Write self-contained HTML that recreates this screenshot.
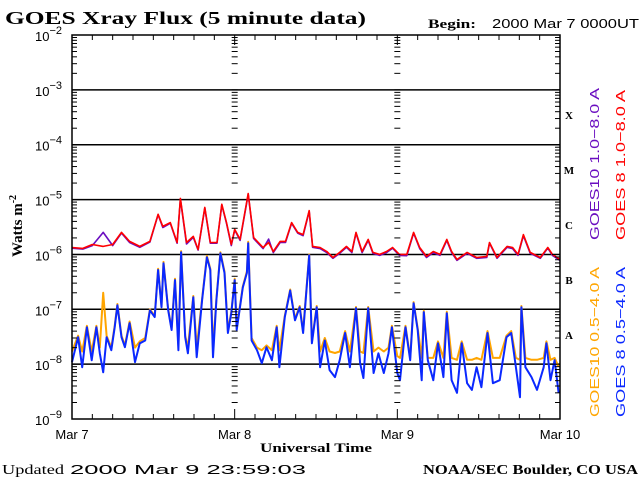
<!DOCTYPE html>
<html><head><meta charset="utf-8"><style>
html,body{margin:0;padding:0;background:#fff;}
svg{display:block;}
.serif{font-family:"Liberation Serif",serif;}
.sans{font-family:"Liberation Sans",sans-serif;}
</style></head><body>
<svg id="chart" width="640" height="480" viewBox="0 0 640 480" xmlns="http://www.w3.org/2000/svg">
<rect x="0" y="0" width="640" height="480" fill="#fff"/>
<text class="serif" x="5" y="24" font-size="18" font-weight="bold" textLength="361" lengthAdjust="spacingAndGlyphs">GOES Xray Flux (5 minute data)</text>
<text class="serif" x="428" y="28" font-size="13" font-weight="bold" textLength="48" lengthAdjust="spacingAndGlyphs">Begin:</text>
<text class="sans" x="492" y="28" font-size="13" textLength="147" lengthAdjust="spacingAndGlyphs">2000 Mar 7 0000UT</text>
<g id="grid"></g>
<g id="series"></g>
<rect x="72" y="35" width="488" height="384" fill="none" stroke="#000" stroke-width="1.5"/>
<g id="axes"></g>
<text class="serif" font-size="15" font-weight="bold" transform="translate(22,226) rotate(-90)" text-anchor="middle">Watts m<tspan font-size="10" dy="-6">-2</tspan></text>
<text class="serif" x="316" y="452" font-size="13" font-weight="bold" text-anchor="middle" textLength="112" lengthAdjust="spacingAndGlyphs">Universal Time</text>
<text class="serif" x="569" y="119" font-size="11" font-weight="bold" text-anchor="middle">X</text>
<text class="serif" x="569" y="174" font-size="11" font-weight="bold" text-anchor="middle">M</text>
<text class="serif" x="569" y="229" font-size="11" font-weight="bold" text-anchor="middle">C</text>
<text class="serif" x="569" y="284" font-size="11" font-weight="bold" text-anchor="middle">B</text>
<text class="serif" x="569" y="339" font-size="11" font-weight="bold" text-anchor="middle">A</text>
<text class="sans" font-size="13" fill="#6a0dc0" transform="translate(599,240) rotate(-90)" textLength="152" lengthAdjust="spacingAndGlyphs">GOES10 1.0−8.0 A</text>
<text class="sans" font-size="13" fill="#ff0000" transform="translate(625,240) rotate(-90)" textLength="150" lengthAdjust="spacingAndGlyphs">GOES 8 1.0−8.0 A</text>
<text class="sans" font-size="13" fill="#ffa500" transform="translate(599,417) rotate(-90)" textLength="150" lengthAdjust="spacingAndGlyphs">GOES10 0.5−4.0 A</text>
<text class="sans" font-size="13" fill="#0a28ff" transform="translate(625,417) rotate(-90)" textLength="150" lengthAdjust="spacingAndGlyphs">GOES 8 0.5−4.0 A</text>
<text class="serif" x="2" y="474" font-size="14" textLength="62" lengthAdjust="spacingAndGlyphs">Updated</text>
<text class="sans" x="70" y="474" font-size="13" textLength="236" lengthAdjust="spacingAndGlyphs">2000 Mar 9 23:59:03</text>
<text class="serif" x="638" y="474" font-size="14" font-weight="bold" text-anchor="end" textLength="215" lengthAdjust="spacingAndGlyphs">NOAA/SEC Boulder, CO USA</text>
</svg>
<script>
const dayLabels = ["Mar 7","Mar 8","Mar 9","Mar 10"];
const decades = [-2,-3,-4,-5,-6,-7,-8,-9];
const longHours = [0,1.6,3,4.6,6,7.3,8.5,10,11.5,12.7,13.4,14.5,15.5,16,16.9,17.9,18.6,19.6,20.4,21.4,22.1,22.8,23.5,24,24.8,26,26.8,28.2,29,29.7,30.7,31.5,32.4,33.3,34.1,35,35.5,36.6,37.6,38.5,39.5,40.5,41.3,41.9,42.8,43.7,44.4,45.4,46.4,47.3,48.3,49.4,50.4,51.3,52.3,53.3,54.3,55.3,56,56.8,58.3,59.7,61.2,61.6,62.7,64.2,65,65.8,66.6,67.6,69.1,70.2,70.9,72];
const goes8Long = [1.34e-6,1.29e-6,1.52e-6,1.40e-6,1.52e-6,2.52e-6,1.73e-6,1.40e-6,1.73e-6,5.4e-6,3.24e-6,3.8e-6,1.65e-6,1.05e-5,1.65e-6,2.13e-6,1.23e-6,7.2e-6,1.65e-6,1.65e-6,8.2e-6,3.8e-6,1.52e-6,2.86e-6,1.88e-6,1.29e-5,2.04e-6,1.34e-6,1.65e-6,1.13e-6,1.73e-6,1.73e-6,3.8e-6,2.52e-6,2.3e-6,6.3e-6,1.40e-6,1.34e-6,1.13e-6,8.8e-7,1.09e-6,1.40e-6,1.13e-6,2.52e-6,1.13e-6,1.88e-6,1.09e-6,1.0e-6,1.13e-6,1.34e-6,1.0e-6,1.0e-6,2.52e-6,1.34e-6,9.2e-7,1.13e-6,1.0e-6,1.88e-6,1.13e-6,8.1e-7,1.09e-6,8.8e-7,9.2e-7,1.65e-6,8.8e-7,1.40e-6,1.34e-6,1.0e-6,2.3e-6,1.09e-6,8.8e-7,1.34e-6,1.0e-6,8.1e-7];
const goes10Long = [1.30e-6,1.25e-6,1.45e-6,2.52e-6,1.45e-6,2.45e-6,1.65e-6,1.35e-6,1.68e-6,5.3e-6,3.1e-6,3.7e-6,1.6e-6,1.02e-5,1.55e-6,2.05e-6,1.2e-6,7.0e-6,1.6e-6,1.6e-6,8.0e-6,3.7e-6,1.45e-6,2.8e-6,1.8e-6,1.25e-5,1.95e-6,1.28e-6,1.9e-6,1.08e-6,1.65e-6,1.65e-6,3.7e-6,2.45e-6,2.2e-6,6.1e-6,1.35e-6,1.28e-6,1.08e-6,8.5e-7,1.05e-6,1.35e-6,1.08e-6,2.45e-6,1.08e-6,1.8e-6,1.05e-6,9.6e-7,1.08e-6,1.3e-6,9.6e-7,9.5e-7,2.45e-6,1.28e-6,8.8e-7,1.08e-6,9.6e-7,1.8e-6,1.08e-6,7.8e-7,1.05e-6,8.5e-7,8.8e-7,1.6e-6,8.5e-7,1.35e-6,1.28e-6,9.6e-7,2.2e-6,1.05e-6,8.5e-7,1.3e-6,9.6e-7,7.8e-7];
const shortHours = [0,0.9,1.5,2.2,2.9,3.6,4.1,4.6,5.1,5.8,6.3,6.7,7.3,7.8,8.5,9.3,10,10.8,11.5,12.2,12.7,13.2,13.5,14.2,14.7,15.2,15.7,16.1,16.7,17.1,17.9,18.4,19.2,19.9,20.4,20.8,21.3,21.9,22.5,23,23.5,24,24.3,25.2,25.8,26,26.5,27.3,28,28.7,29.5,30.2,30.6,31.4,32.2,32.9,33.6,34.1,35,35.4,36.1,36.6,37.3,38,38.8,39.5,40.3,41,41.9,42.5,43,43.7,44.5,45.2,46,46.7,47.2,48,48.4,49.2,49.9,50.4,51,51.6,51.9,52.5,53.3,54,54.8,55.3,56,56.8,57.5,58.3,59,59.7,60.4,61.3,62.1,63.1,64.1,64.8,65.5,66.1,66.3,66.9,67.8,68.6,69.6,70,70.6,71.2,71.8];
const goes8Short = [1.09e-8,3.1e-8,8.8e-9,4.7e-8,1.18e-8,4.7e-8,1.58e-8,7.1e-9,3.1e-8,1.8e-8,4.7e-8,1.19e-7,3.1e-8,2.04e-8,5.6e-8,1.09e-8,2.4e-8,2.7e-8,9.6e-8,7.2e-8,5.2e-7,1.09e-7,6.9e-7,9.6e-8,4.2e-8,3.4e-7,1.8e-8,1.1e-6,3.1e-8,1.58e-8,1.66e-7,1.34e-8,1.47e-7,8.9e-7,5.2e-7,1.34e-8,1.47e-7,1.05e-6,4.6e-7,3.7e-8,8.5e-8,3.4e-7,4.2e-8,2.5e-7,4.6e-7,1.6e-6,2.7e-8,1.8e-8,1.04e-8,2.04e-8,1.18e-8,4.7e-8,8.8e-9,7.2e-8,2.2e-7,6.3e-8,1.09e-7,3.7e-8,9.7e-7,2.4e-8,1.09e-7,8.8e-9,2.7e-8,7.8e-9,5.8e-9,1.18e-8,3.7e-8,8.8e-9,1.05e-7,1.04e-8,5.6e-9,1.05e-7,6.9e-9,1.58e-8,6.9e-9,1.58e-8,4.7e-8,6.9e-9,5.1e-9,4.7e-8,1.18e-8,1.29e-7,4.2e-8,5.1e-9,8.9e-8,1.18e-8,5.1e-9,2.4e-8,5.8e-9,8.5e-8,5.1e-9,3.0e-9,2.4e-8,4.5e-9,3.4e-9,8.8e-9,3.8e-9,3.7e-8,4.5e-9,5.1e-9,3.1e-8,3.7e-8,8.8e-9,2.5e-9,1.09e-7,8.8e-9,5.8e-9,3.4e-9,8.8e-9,2.4e-8,5.1e-9,1.18e-8,3.0e-9];
const goes10Short = [1.7e-8,3.3e-8,1.7e-8,5.0e-8,1.7e-8,5.0e-8,2.0e-8,2.0e-7,3.3e-8,2.0e-8,5.0e-8,1.25e-7,3.3e-8,2.2e-8,6.0e-8,2.0e-8,2.6e-8,3.0e-8,1.0e-7,7.6e-8,5.5e-7,1.15e-7,7.3e-7,1.0e-7,4.5e-8,3.6e-7,2.2e-8,1.15e-6,3.3e-8,2.0e-8,1.75e-7,2.0e-8,1.55e-7,9.4e-7,5.5e-7,2.0e-8,1.55e-7,1.1e-6,4.9e-7,4.0e-8,9.0e-8,3.6e-7,4.5e-8,2.6e-7,4.9e-7,1.7e-6,3.0e-8,2.0e-8,1.8e-8,2.2e-8,1.8e-8,5.0e-8,1.8e-8,7.6e-8,2.3e-7,6.7e-8,1.15e-7,4.0e-8,1.0e-6,2.6e-8,1.15e-7,1.7e-8,3.0e-8,1.7e-8,1.6e-8,1.7e-8,4.0e-8,1.7e-8,1.1e-7,1.7e-8,1.6e-8,1.1e-7,1.7e-8,2.0e-8,1.7e-8,2.0e-8,5.0e-8,1.4e-8,1.3e-8,5.0e-8,1.3e-8,1.35e-7,4.5e-8,1.3e-8,9.4e-8,1.3e-8,1.3e-8,2.6e-8,1.3e-8,9.0e-8,1.3e-8,1.2e-8,2.6e-8,1.2e-8,1.2e-8,1.3e-8,1.2e-8,4.0e-8,1.3e-8,1.3e-8,3.3e-8,4.0e-8,1.3e-8,1.2e-8,1.15e-7,1.3e-8,1.2e-8,1.2e-8,1.3e-8,2.6e-8,1.2e-8,1.3e-8,9e-9];

const NS = "http://www.w3.org/2000/svg";
const X0 = 72, X1 = 560, Y0 = 35, DEC = 54.86, HOURS = 72;
function xScale(h){ return X0 + h * (X1 - X0) / HOURS; }
function yScale(f){ return Y0 + (-2 - Math.log10(f)) * DEC; }
function yDec(d){ return Y0 + (-2 - d) * DEC; }
function mk(tag, attrs, parent){
  const e = document.createElementNS(NS, tag);
  for (const k in attrs) e.setAttribute(k, attrs[k]);
  parent.appendChild(e); return e;
}
const grid = document.getElementById('grid');
const axes = document.getElementById('axes');
const series = document.getElementById('series');

decades.forEach((d, i) => {
  const y = yDec(d);
  if (i > 0 && i < decades.length - 1) {
    const l = mk('line', {x1:X0, x2:X1, y1:y, y2:y, stroke:'#000', 'stroke-width':1.5}, grid);
    
    
  }
  const t = mk('text', {x:35, y:y+6, 'font-size':13, 'font-family':'"Liberation Sans",sans-serif'}, axes);
  
  
  t.textContent = '10';
  const s = mk('tspan', {'font-size':11, dy:-7}, t);
  s.textContent = '−' + (-d);
});
for (let d = -9; d < -2; d++) {
  for (let m = 1; m <= 9; m++) {
    const y = yScale(m * Math.pow(10, d));
    const len = m === 1 ? 8 : 5;
    [[X0, X0+len],[X1-len, X1],[xScale(24)-3, xScale(24)+3],[xScale(48)-3, xScale(48)+3]].forEach(p => {
      const tk = mk('line', {x1:p[0], x2:p[1], y1:y, y2:y, stroke:'#000', 'stroke-width':1}, axes);
      
      
    });
  }
}
for (let h = 0; h <= HOURS; h += 3) {
  const x = xScale(h);
  const len = h % 24 === 0 ? 10 : 5;
  const a = mk('line', {x1:x, x2:x, y1:Y0, y2:Y0+len, stroke:'#000', 'stroke-width':1}, axes);
  
  
  const b = mk('line', {x1:x, x2:x, y1:419-len, y2:419, stroke:'#000', 'stroke-width':1}, axes);
  
  
}
dayLabels.forEach((lab, i) => {
  const t = mk('text', {x:xScale(i*24), y:439, 'font-size':13, 'text-anchor':'middle', 'font-family':'"Liberation Sans",sans-serif'}, axes);
  
  
  t.textContent = lab;
});
function linePath(hours, vals){
  let d = '';
  for (let i = 0; i < hours.length; i++) {
    d += (i === 0 ? 'M' : 'L') + xScale(hours[i]).toFixed(1) + ' ' + yScale(vals[i]).toFixed(1) + ' ';
  }
  return d;
}
const p1 = mk('path', {d:linePath(shortHours, goes10Short), fill:'none', stroke:'#ffa500', 'stroke-width':2, 'stroke-linejoin':'round'}, series);


const p2 = mk('path', {d:linePath(shortHours, goes8Short), fill:'none', stroke:'#0a28ff', 'stroke-width':2, 'stroke-linejoin':'round'}, series);


const p3 = mk('path', {d:linePath(longHours, goes10Long), fill:'none', stroke:'#6a0dc0', 'stroke-width':1.6, 'stroke-linejoin':'round'}, series);


const p4 = mk('path', {d:linePath(longHours, goes8Long), fill:'none', stroke:'#ff0000', 'stroke-width':1.6, 'stroke-linejoin':'round'}, series);


</script>
</body></html>
